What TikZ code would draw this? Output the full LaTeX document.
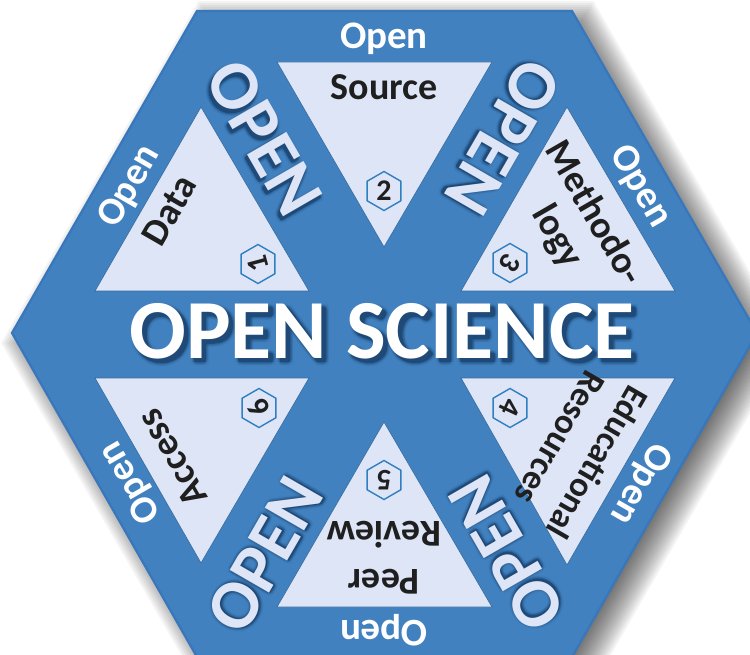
\documentclass[tikz,border=0pt]{standalone}
\usepackage{fontspec}
\setmainfont{Carlito}
\usetikzlibrary{shapes.geometric}
\definecolor{hexblue}{HTML}{4181BF}
\definecolor{hexedge}{HTML}{3877BC}
\definecolor{tripale}{HTML}{DEE5F6}
\definecolor{badge}{HTML}{2F7FC1}
\definecolor{inkdark}{HTML}{1F1F1F}
\definecolor{shadeblue}{HTML}{1F4A78}
\tikzset{
  hexshape/.style={fill=hexblue,draw=hexedge,line width=2.2pt,line join=miter},
  tri/.style={fill=tripale,draw=hexblue!85!black,line width=0.7pt},
  lab/.style={inner sep=0pt,text=inkdark,font=\fontsize{38}{40}\selectfont\bfseries,align=center},
  labsmall/.style={lab,font=\fontsize{35}{38}\selectfont\bfseries},
  small/.style={inner sep=0pt,text=white,font=\fontsize{39}{39}\selectfont\bfseries},
  big/.style={inner sep=0pt,text=tripale,font=\fontsize{70}{70}\selectfont\bfseries},
  title/.style={inner sep=0pt,text=white,font=\fontsize{84}{84}\selectfont\bfseries},
  badgehex/.style={regular polygon,regular polygon sides=6,shape border rotate=30,minimum size=39pt,inner sep=0pt,draw=badge,line width=1.4pt,fill=none},
  num/.style={inner sep=0pt,text=inkdark,font=\fontsize{30}{30}\selectfont\bfseries},
}
% text with a soft dark shadow: name, position, rotation, style, text, shadow dx, dy
\newcommand{\softtext}[7]{%
  \foreach \r/\o in {4/0.05,3/0.08,2/0.12,1/0.18,0/0.3}{
    \foreach \a in {0,45,...,315}{
      \node[#4,rotate=#3,text=shadeblue,text opacity=\o,shift={({#6+\r*cos(\a)},{#7+\r*sin(\a)})}] at (#2) {#5};
    }
  }
  \node[#4,rotate=#3] (#1) at (#2) {#5};
}
\begin{document}
\begin{tikzpicture}[x=1pt,y=-1pt]
\useasboundingbox (0,0) rectangle (750,655);
\clip (0,0) rectangle (750,655);
\fill[white] (0,0) rectangle (750,655);
% hexagon corners
\coordinate (hA) at (197,11);
\coordinate (hB) at (572,11);
\coordinate (hC) at (757,333);
\coordinate (hD) at (572,657);
\coordinate (hE) at (197,657);
\coordinate (hF) at (12,333);
% soft drop shadow: growing hexagons, each faint
\foreach \d in {-14,-12,...,20}{
  \pgfmathsetmacro{\R}{(322+\d)/0.866}
  \fill[black,opacity=0.042,shift={(396,343)}]
    (0:\R) -- (60:\R) -- (120:\R) -- (180:\R) -- (240:\R) -- (300:\R) -- cycle;
}
\draw[hexshape] (hA) -- (hB) -- (hC) -- (hD) -- (hE) -- (hF) -- cycle;
% triangles
\draw[tri] (201,107) -- (309,291) -- (95,291) -- cycle;
\draw[tri] (277,62) -- (492,62) -- (384,247) -- cycle;
\draw[tri] (567,107) -- (675,291) -- (461,291) -- cycle;
\draw[tri] (461,378) -- (675,378) -- (567,565) -- cycle;
\draw[tri] (384,422) -- (492,607) -- (277,607) -- cycle;
\draw[tri] (95,378) -- (309,378) -- (201,563) -- cycle;
% labels in triangles
\node[lab,rotate=60] (tdata) at (169,210) {Data};
\node[lab] (tsource) at (384,87) {Source};
\node[lab,rotate=-60] (tmeth) at (596,212) {Methodo-};
\node[lab,rotate=-60] (tlogy) at (557,237) {logy};
\node[labsmall,rotate=-120] (tedu) at (598,463) {Educational};
\node[labsmall,rotate=-120] (tres) at (560,438) {Resources};
\node[lab,rotate=180] (tpeer) at (384,582) {Peer};
\node[lab,rotate=180] (trev) at (384,535) {Review};
\node[lab,rotate=120] (tacc) at (172,458) {Access};
% numbered badges
\node[badgehex] (b1) at (258,264) {};
\node[num,rotate=105] (n1) at (b1) {1};
\node[badgehex] (b2) at (384,191) {};
\node[num] (n2) at (b2) {2};
\node[badgehex] (b3) at (510,263) {};
\node[num,rotate=-120] (n3) at (b3) {3};
\node[badgehex] (b4) at (510,408) {};
\node[num,rotate=-115] (n4) at (b4) {4};
\node[badgehex] (b5) at (384,480) {};
\node[num,rotate=180] (n5) at (b5) {5};
\node[badgehex] (b6) at (259,408) {};
\node[num,rotate=120] (n6) at (b6) {6};
% small Open labels
\node[small] (o2) at (384,39) {Open};
\node[small,rotate=-60] (o3) at (640,187) {Open};
\node[small,rotate=-120] (o4) at (640,483) {Open};
\node[small,rotate=180] (o5) at (384,630) {Open};
\node[small,rotate=120] (o6) at (131,482) {Open};
\node[small,rotate=60] (o1) at (130,187) {Open};
% big OPEN labels
\softtext{big1}{264,138}{-60}{big}{OPEN}{2}{3}
\softtext{big2}{503,137}{-120}{big}{OPEN}{1}{2}
\softtext{big3}{507,553}{120}{big}{OPEN}{1}{1}
\softtext{big4}{265,555}{60}{big}{OPEN}{1}{1}
% title
\softtext{main}{382,331}{0}{title}{OPEN SCIENCE}{4}{4}
\end{tikzpicture}
\end{document}
